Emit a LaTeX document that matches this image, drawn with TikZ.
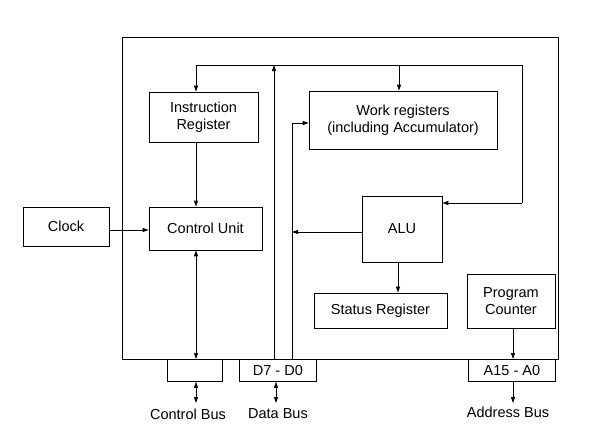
\documentclass[tikz,border=0pt]{standalone}
\usepackage{fontspec}
\setmainfont{Liberation Sans}
\usetikzlibrary{arrows.meta}
\begin{document}
\begin{tikzpicture}[x=1pt,y=-1pt,
  box/.style={draw,line width=0.8pt,inner sep=0pt,align=center,font=\fontsize{14.5}{17}\selectfont},
  lab/.style={inner sep=0pt,font=\fontsize{14.5}{17}\selectfont},
  ln/.style={line width=0.8pt},
  arr/.style={ln,-{Triangle[length=6pt,width=4pt]}},
  darr/.style={ln,{Triangle[length=6pt,width=4pt]}-{Triangle[length=6pt,width=4pt]}}]
\useasboundingbox (0,0) rectangle (612,442);
% outer CPU box
\node[box,minimum width=436,minimum height=322,anchor=north west] (cpu) at (122,37) {};
\node[box,minimum width=109,minimum height=50] (ir) at (203.5,117) {Instruction\\Register};
\node[box,minimum width=188,minimum height=58] (wr) at (403,120) {Work registers\\(including Accumulator)};
\node[box,minimum width=113,minimum height=43] (cu) at (205.5,228.5) {Control Unit};
\node[box,minimum width=86,minimum height=39] (clk) at (66,226.5) {Clock};
\node[box,minimum width=80,minimum height=66] (alu) at (402,229) {ALU};
\node[box,minimum width=133,minimum height=35] (sr) at (380.5,310.5) {Status Register};
\node[box,minimum width=88,minimum height=54] (pc) at (511,301) {Program\\Counter};
\node[box,minimum width=55,minimum height=22,anchor=north west] (cb) at (167,359) {};
\node[box,minimum width=77,minimum height=22,anchor=north west] (db) at (239,359) {D7 - D0};
\node[box,minimum width=87,minimum height=22,anchor=north west] (ab) at (468,359) {A15 - A0};
\node[lab] (cbl) at (188,414) {Control Bus};
\node[lab] (dbl) at (278,414) {Data Bus};
\node[lab] (abl) at (508,412) {Address Bus};
% internal bus coordinates
\coordinate (tl) at (196,65);
\coordinate (tr) at (522,65);
\coordinate (busU) at (274,65);
\coordinate (busUb) at (274,359);
\coordinate (busD) at (292,123);
\coordinate (busDb) at (292,359);
% connections
\draw[ln] (tl) -- (tr) -- (tr |- 0,203);
\draw[arr] (tr |- 0,203) -- (alu.east |- 0,203);
\draw[arr] (tl) -- (ir.north -| tl);
\draw[arr] (399,65) -- (wr.north -| 399,0);
\draw[arr] (busUb) -- (busU);
\draw[ln] (busDb) -- (busD);
\draw[arr] (busD) -- (wr.west |- busD);
\draw[arr] (alu.west |- 0,232) -- (292,232);
\draw[arr] (ir.south -| 196,0) -- (cu.north -| 196,0);
\draw[arr] (clk.east |- 0,230) -- (cu.west |- 0,230);
\draw[darr] (cu.south -| 196,0) -- (196,359);
\draw[arr] (alu.south -| 398,0) -- (sr.north -| 398,0);
\draw[arr] (pc.south -| 513,0) -- (ab.north -| 513,0);
\draw[darr] (cb.south -| 196,0) -- (196,403);
\draw[darr] (db.south -| 276,0) -- (276,403);
\draw[arr] (ab.south -| 513,0) -- (513,403);
\end{tikzpicture}
\end{document}
